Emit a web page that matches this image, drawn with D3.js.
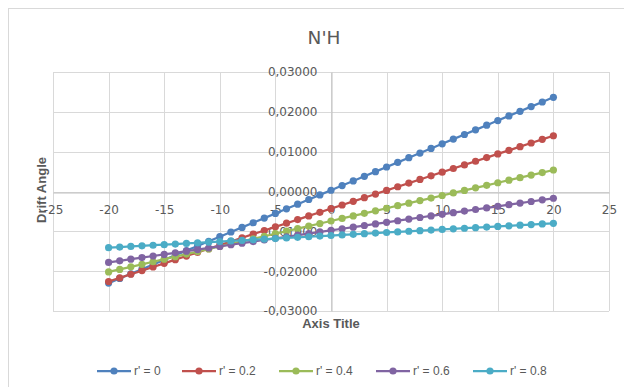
<!DOCTYPE html>
<html>
<head>
<meta charset="utf-8">
<script src="https://cdn.jsdelivr.net/npm/d3@7"></script>
<style>
  html, body { margin: 0; padding: 0; background: #fff; }
  svg { display: block; }
  text { font-family: "DejaVu Sans", "Liberation Sans", sans-serif; fill: #595959; }
</style>
</head>
<body>
<svg id="chart" width="624" height="387"></svg>
<script>
// Drift angle vs x for several r' values
const xValues = [-20,-19,-18,-17,-16,-15,-14,-13,-12,-11,-10,-9,-8,-7,-6,-5,-4,-3,-2,-1,0,
                 1,2,3,4,5,6,7,8,9,10,11,12,13,14,15,16,17,18,19,20];

const r0 = [-0.02300,-0.02183,-0.02067,-0.01950,-0.01834,-0.01717,-0.01600,-0.01484,-0.01367,-0.01251,
            -0.01134,-0.01017,-0.00901,-0.00784,-0.00668,-0.00551,-0.00434,-0.00318,-0.00201,-0.00085,
             0.00032, 0.00149, 0.00265, 0.00382, 0.00498, 0.00615, 0.00732, 0.00848, 0.00965, 0.01081,
             0.01198, 0.01315, 0.01431, 0.01548, 0.01664, 0.01781, 0.01898, 0.02014, 0.02131, 0.02247,
             0.02364];
const r02 = [-0.02260,-0.02169,-0.02077,-0.01986,-0.01894,-0.01803,-0.01711,-0.01620,-0.01528,-0.01437,
             -0.01345,-0.01254,-0.01162,-0.01071,-0.00979,-0.00888,-0.00796,-0.00705,-0.00613,-0.00522,
             -0.00430,-0.00339,-0.00247,-0.00156,-0.00064, 0.00028, 0.00119, 0.00211, 0.00302, 0.00394,
              0.00485, 0.00577, 0.00668, 0.00760, 0.00851, 0.00943, 0.01034, 0.01126, 0.01217, 0.01309,
              0.01400];
const r04 = [-0.02020,-0.01956,-0.01892,-0.01828,-0.01764,-0.01700,-0.01636,-0.01572,-0.01508,-0.01444,
             -0.01380,-0.01316,-0.01252,-0.01188,-0.01124,-0.01060,-0.00996,-0.00932,-0.00868,-0.00804,
             -0.00740,-0.00676,-0.00612,-0.00548,-0.00484,-0.00420,-0.00356,-0.00292,-0.00228,-0.00164,
             -0.00100,-0.00036, 0.00028, 0.00092, 0.00156, 0.00220, 0.00284, 0.00348, 0.00412, 0.00476,
              0.00540];
const r06 = [-0.01780,-0.01740,-0.01700,-0.01659,-0.01619,-0.01579,-0.01539,-0.01498,-0.01458,-0.01418,
             -0.01378,-0.01337,-0.01297,-0.01257,-0.01217,-0.01176,-0.01136,-0.01096,-0.01056,-0.01015,
             -0.00975,-0.00935,-0.00895,-0.00854,-0.00814,-0.00774,-0.00734,-0.00693,-0.00653,-0.00613,
             -0.00573,-0.00532,-0.00492,-0.00452,-0.00412,-0.00371,-0.00331,-0.00291,-0.00251,-0.00210,
             -0.00170];
const r08 = [-0.01410,-0.01395,-0.01380,-0.01364,-0.01349,-0.01334,-0.01319,-0.01303,-0.01288,-0.01273,
             -0.01258,-0.01242,-0.01227,-0.01212,-0.01197,-0.01181,-0.01166,-0.01151,-0.01136,-0.01120,
             -0.01105,-0.01090,-0.01075,-0.01059,-0.01044,-0.01029,-0.01014,-0.00998,-0.00983,-0.00968,
             -0.00953,-0.00937,-0.00922,-0.00907,-0.00892,-0.00876,-0.00861,-0.00846,-0.00831,-0.00815,
             -0.00800];

const seriesNames = ["r' = 0", "r' = 0.2", "r' = 0.4", "r' = 0.6", "r' = 0.8"];
const seriesValues = [r0, r02, r04, r06, r08];
const seriesColors = ["#4F81BD", "#C0504D", "#9BBB59", "#8064A2", "#4BACC6"];

const xTicks = [-25, -20, -15, -10, -5, 0, 5, 10, 15, 20, 25];
const yTicks = [-0.03, -0.02, -0.01, 0, 0.01, 0.02, 0.03];

const titleText = "N'H";
const xTitle = "Axis Title";
const yTitle = "Drift Angle";

const svg = d3.select("#chart");

// chart frame (extends past the right and bottom edges)
svg.append("rect")
  .attr("x", 8.5).attr("y", 8.5).attr("width", 700).attr("height", 500)
  .attr("fill", "#fff").attr("stroke", "#d9d9d9").attr("stroke-width", 1);

const plot = { left: 53, right: 609, top: 72, bottom: 311 };
const x = d3.scaleLinear().domain([-25, 25]).range([plot.left, plot.right]);
const y = d3.scaleLinear().domain([-0.03, 0.03]).range([plot.bottom, plot.top]);

// gridlines
const grid = svg.append("g");
grid.selectAll(".vg").data(xTicks).join("line")
  .attr("x1", d => Math.round(x(d)) + 0.5).attr("x2", d => Math.round(x(d)) + 0.5)
  .attr("y1", plot.top).attr("y2", plot.bottom)
  .attr("stroke", "#d9d9d9").attr("stroke-width", 1);
grid.selectAll(".hg").data(yTicks).join("line")
  .attr("x1", plot.left).attr("x2", plot.right)
  .attr("y1", d => Math.round(y(d)) + 0.5).attr("y2", d => Math.round(y(d)) + 0.5)
  .attr("stroke", "#d9d9d9").attr("stroke-width", 1);

// axes crossing at the origin
const xAxis = d3.axisBottom(x).tickValues(xTicks).tickSize(0).tickPadding(0)
  .tickFormat(d => String(d));
const gx = svg.append("g").attr("transform", `translate(0,${Math.round(y(0)) + 0.5})`).call(xAxis);
gx.select(".domain").attr("stroke", "#bfbfbf");
gx.selectAll("text").attr("font-size", 12).attr("dy", "1.75em")
  .style("font-family", "'DejaVu Sans', sans-serif").attr("fill", "#595959");

const fmtY = d => (d < 0 ? "-" : "") + Math.abs(d).toFixed(5).replace(".", ",");
const yAxis = d3.axisLeft(y).tickValues(yTicks).tickSize(0).tickPadding(14).tickFormat(fmtY);
const gy = svg.append("g").attr("transform", `translate(${Math.round(x(0)) + 0.5},0)`).call(yAxis);
gy.select(".domain").attr("stroke", "#bfbfbf");
gy.selectAll("text").attr("font-size", 12)
  .style("font-family", "'DejaVu Sans', sans-serif").attr("fill", "#595959");

// series: line plus round markers
const line = d3.line().x((d, i) => x(xValues[i])).y(d => y(d));
seriesValues.forEach((vals, s) => {
  const g = svg.append("g");
  g.append("path").datum(vals).attr("d", line)
    .attr("fill", "none").attr("stroke", seriesColors[s]).attr("stroke-width", 2.25);
  g.selectAll("circle").data(vals).join("circle")
    .attr("cx", (d, i) => x(xValues[i])).attr("cy", d => y(d)).attr("r", 3.6)
    .attr("fill", seriesColors[s]);
});

// titles
svg.append("text").attr("x", 324).attr("y", 44).attr("text-anchor", "middle")
  .attr("font-size", 18.5).text(titleText);
svg.append("text").attr("x", 331).attr("y", 328).attr("text-anchor", "middle")
  .attr("font-size", 13).attr("font-weight", "bold").style("font-family", "'Liberation Sans', sans-serif")
  .text(xTitle);
svg.append("text").attr("transform", "translate(46,190) rotate(-90)").attr("text-anchor", "middle")
  .attr("font-size", 13).attr("font-weight", "bold").style("font-family", "'Liberation Sans', sans-serif")
  .text(yTitle);

// legend
const legendX = [97, 182, 279, 376, 473];
const legendY = 371;
seriesNames.forEach((name, s) => {
  const g = svg.append("g").attr("transform", `translate(${legendX[s]},${legendY})`);
  g.append("line").attr("x1", 0).attr("x2", 34).attr("y1", 0).attr("y2", 0)
    .attr("stroke", seriesColors[s]).attr("stroke-width", 2.25);
  g.append("circle").attr("cx", 17).attr("cy", 0).attr("r", 3.6).attr("fill", seriesColors[s]);
  g.append("text").attr("x", 37).attr("y", 0).attr("dy", "0.35em")
    .attr("font-size", 12).style("font-family", "'Liberation Sans', sans-serif").text(name);
});
</script>
</body>
</html>
